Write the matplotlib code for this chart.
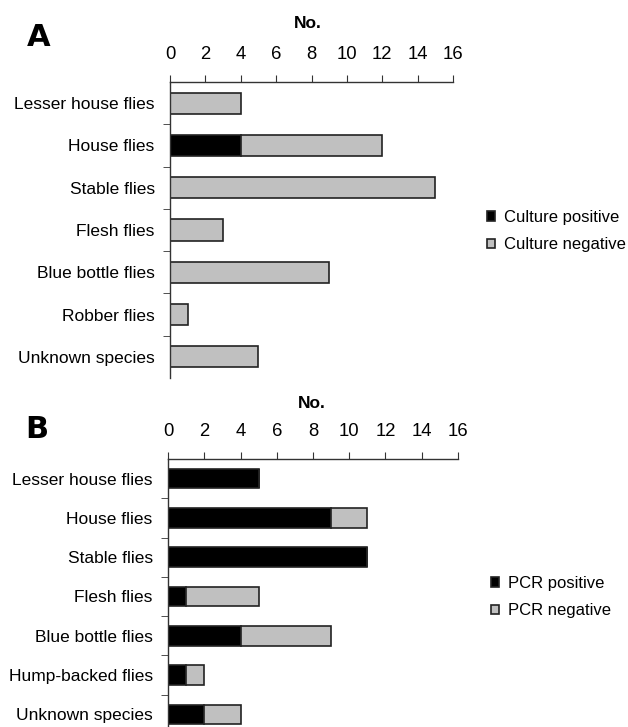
import matplotlib

matplotlib.use("Agg")

import matplotlib.pyplot as plt
import numpy as np

plt.rcParams["font.family"] = ["Liberation Sans", "DejaVu Sans"]

species_a = ["Lesser house flies", "House flies", "Stable flies", "Flesh flies",
             "Blue bottle flies", "Robber flies", "Unknown species"]
culture_pos = [0, 4, 0, 0, 0, 0, 0]
culture_neg = [4, 8, 15, 3, 9, 1, 5]

species_b = ["Lesser house flies", "House flies", "Stable flies", "Flesh flies",
             "Blue bottle flies", "Hump-backed flies", "Unknown species"]
pcr_pos = [5, 9, 11, 1, 4, 1, 2]
pcr_neg = [0, 2, 0, 4, 5, 1, 2]

x_ticks = [0, 2, 4, 6, 8, 10, 12, 14, 16]

BLACK = "#000000"
GRAY = "#c0c0c0"
EDGE = "#222222"
FS = 12.5


def draw_panel(ax, labels, pos, neg, pos_label, neg_label):
    y = np.arange(len(labels))
    ax.barh(y, pos, height=0.5, color=BLACK, edgecolor=EDGE, linewidth=1.2, label=pos_label)
    ax.barh(y, neg, left=pos, height=0.5, color=GRAY, edgecolor=EDGE, linewidth=1.2, label=neg_label)
    ax.set_ylim(len(labels) - 0.5, -0.5)
    ax.set_xlim(0, 16)
    ax.set_yticks(y)
    ax.set_yticklabels(labels, fontsize=FS)
    ax.set_yticks(np.arange(0.5, len(labels) - 0.5, 1), minor=True)
    ax.tick_params(axis="y", which="major", length=0, pad=11)
    ax.tick_params(axis="y", which="minor", length=5, direction="out", color="#333333")
    ax.xaxis.tick_top()
    ax.set_xticks(x_ticks)
    ax.tick_params(axis="x", length=5, direction="out", pad=9, labelsize=FS + 0.8, color="#333333")
    for side in ["right", "bottom"]:
        ax.spines[side].set_visible(False)
    for side in ["top", "left"]:
        ax.spines[side].set_color("#333333")
        ax.spines[side].set_linewidth(1.0)


fig = plt.figure(figsize=(6.28, 7.27), dpi=100)
W, H = 628, 727


def fx(px):
    return px / W


def fy(py):
    return 1 - py / H


ax_a = fig.add_axes([fx(170), fy(378), fx(453) - fx(170), fy(82) - fy(378)])
draw_panel(ax_a, species_a, culture_pos, culture_neg, "Culture positive", "Culture negative")

ax_b = fig.add_axes([fx(168), fy(734), fx(458) - fx(168), fy(459) - fy(734)])
draw_panel(ax_b, species_b, pcr_pos, pcr_neg, "PCR positive", "PCR negative")

for ax, lx, ly in [(ax_a, 487, 231), (ax_b, 491, 597)]:
    ax.legend(loc="center left", bbox_to_anchor=(fx(lx), fy(ly)), bbox_transform=fig.transFigure,
              frameon=False, fontsize=12, handlelength=0.5, handleheight=0.5,
              handletextpad=0.5, labelspacing=0.75, borderaxespad=0, borderpad=0)

fig.text(fx(39), fy(38), "A", fontsize=22, fontweight="heavy", family="DejaVu Sans",
         ha="center", va="center")
fig.text(fx(37), fy(429), "B", fontsize=22, fontweight="heavy", family="DejaVu Sans",
         ha="center", va="center")
fig.text(fx(308), fy(23), "No.", fontsize=FS, fontweight="bold", ha="center", va="center")
fig.text(fx(312), fy(403), "No.", fontsize=FS, fontweight="bold", ha="center", va="center")

fig.savefig("out.png", dpi=100)
